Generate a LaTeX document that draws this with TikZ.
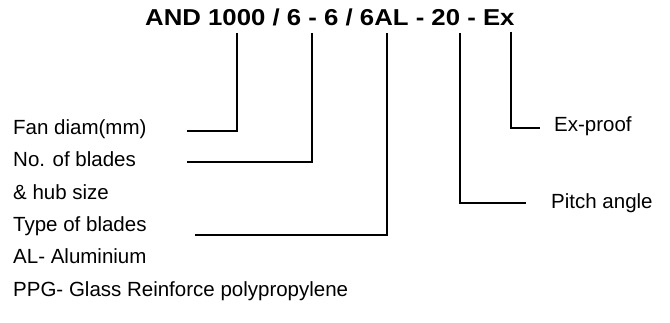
\documentclass[tikz,border=0pt]{standalone}
\usepackage{fontspec}
\setmainfont{Liberation Sans}
\usepackage{tikz}
\usetikzlibrary{positioning}
\tikzset {
  % code line at the top
  code/.style = {anchor=base west, inner sep=0pt, font=\fontsize{23}{23}\selectfont\bfseries, xscale=1.12},
  % explanations
  label/.style = {anchor=base west, inner sep=0pt, font=\fontsize{20.5}{20.5}\selectfont},
  % connecting lines
  lead/.style = {line width=2.4pt},
}
\begin{document}
\begin{tikzpicture}[x=1pt, y=-1pt]
        \useasboundingbox (0,0) rectangle (670,323);

        \node[code] (code) at (145, 26) {AND 1000 / 6 - 6 / 6AL - 20 - Ex};

        \node[label] (fan) at (13, 135) {Fan diam(mm)};
        \node[label] (blades) at (13, 167) {No. of blades};
        \node[label] (hub) at (13, 200) {\& hub size};
        \node[label] (type) at (13, 232) {Type of blades};
        \node[label] (alu) at (13, 264) {AL- Aluminium};
        \node[label] (ppg) at (13, 297) {PPG- Glass Reinforce polypropylene};
        \node[label] (ex) at (554, 132) {Ex-proof};
        \node[label] (pitch) at (551, 209) {Pitch angle};

        \coordinate (t1) at (237, 33);
        \coordinate (t2) at (312, 33);
        \coordinate (t3) at (387, 33);
        \coordinate (t4) at (460, 33);
        \coordinate (t5) at (511, 32);

        \coordinate (e1) at (187, 131);
        \coordinate (e2) at (187, 162);
        \coordinate (e3) at (195, 235);
        \coordinate (e4) at (526, 203);
        \coordinate (e5) at (540, 128);

        \draw [lead] (t1) |- (e1);
        \draw [lead] (t2) |- (e2);
        \draw [lead] (t3) |- (e3);
        \draw [lead] (t4) |- (e4);
        \draw [lead] (t5) |- (e5);
      \end{tikzpicture}
\end{document}
